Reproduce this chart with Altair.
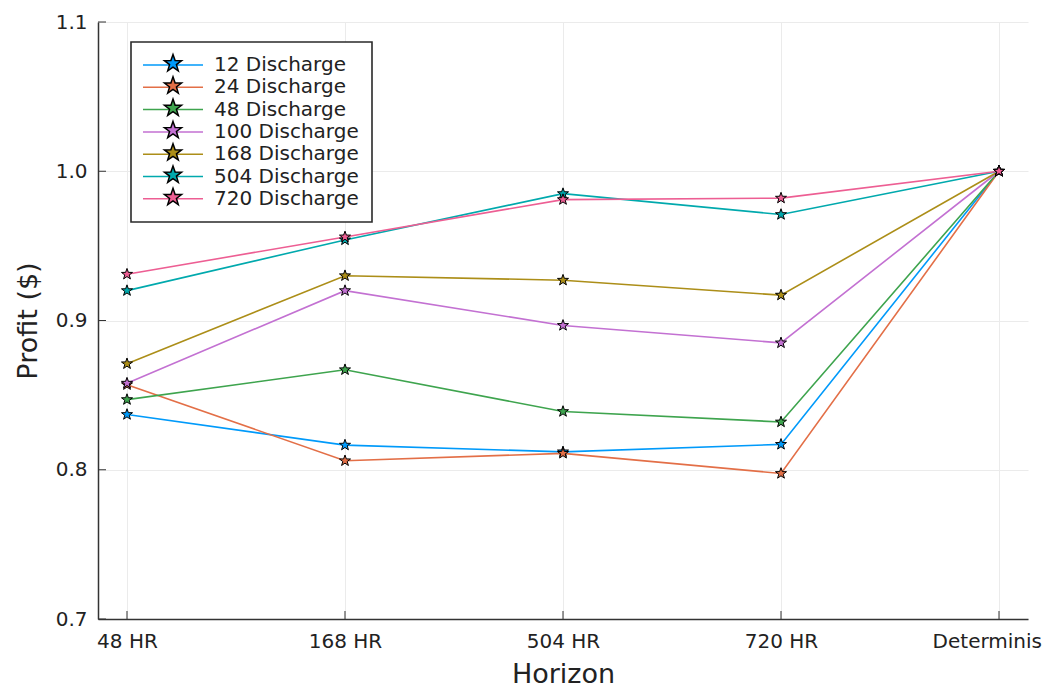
import altair as alt
import pandas as pd

horizons = ["48 HR", "168 HR", "504 HR", "720 HR", "Deterministic"]
series = ["12 Discharge", "24 Discharge", "48 Discharge", "100 Discharge",
          "168 Discharge", "504 Discharge", "720 Discharge"]
v12 = [0.837, 0.8165, 0.812, 0.817, 1.0]
v24 = [0.857, 0.806, 0.811, 0.7975, 1.0]
v48 = [0.847, 0.867, 0.839, 0.832, 1.0]
v100 = [0.858, 0.920, 0.8967, 0.885, 1.0]
v168 = [0.871, 0.930, 0.927, 0.917, 1.0]
v504 = [0.920, 0.954, 0.985, 0.971, 1.0]
v720 = [0.931, 0.956, 0.981, 0.982, 1.0]
colors = ["#009AFA", "#E36F47", "#3EA44E", "#C371D2", "#AC8E18", "#00A9AD", "#ED5E93"]
y_ticks = [0.7, 0.8, 0.9, 1.0, 1.1]

values = [v12, v24, v48, v100, v168, v504, v720]
rows = []
for s, vals in zip(series, values):
    for h, v in zip(horizons, vals):
        rows.append({"horizon": h, "profit": v, "series": s, "series_pt": s})
df = pd.DataFrame(rows)
df_yt = pd.DataFrame({"profit": y_ticks})
df_xt = pd.DataFrame({"horizon": horizons})

FONT = "DejaVu Sans"
STAR = ("M0,-1L0.2351,-0.3236L0.9511,-0.309L0.3804,0.1236L0.5878,0.809L0,0.4"
        "L-0.5878,0.809L-0.3804,0.1236L-0.9511,-0.309L-0.2351,-0.3236Z")
LINE = "M-3.333,0L3.333,0"

xscale = alt.Scale(type="point", padding=0.133, domain=horizons)
yscale = alt.Scale(domain=[0.7, 1.1], nice=False, zero=False)

x_axis = alt.Axis(title="Horizon", labelAngle=0, grid=True, gridColor="#ebebeb", gridWidth=1,
                  ticks=False, tickSize=0, labelPadding=12, labelFontSize=20, labelFont=FONT,
                  labelColor="#222222", titleFontSize=27, titleFont=FONT, titleFontWeight="normal",
                  titleColor="#222222", titlePadding=10, domainColor="#333333", domainWidth=1.5,
                  labelOverlap=False)
y_axis = alt.Axis(title="Profit ($)", values=y_ticks, format=".1f", grid=True, gridColor="#ebebeb",
                  gridWidth=1, ticks=False, tickSize=0, labelPadding=11, labelFontSize=20,
                  labelFont=FONT, labelColor="#222222", titleFontSize=27, titleFont=FONT,
                  titleFontWeight="normal", titleColor="#222222", titlePadding=13,
                  domainColor="#333333", domainWidth=1.5)

common_legend = dict(orient="none", legendX=33, title=None, symbolSize=324,
                     symbolStrokeWidth=1.5, symbolOffset=19, labelOffset=31, labelFontSize=20,
                     labelFont=FONT, padding=13, labelLimit=400)

line_legend = alt.Legend(symbolType=LINE, labelColor="#222222", fillColor="white",
                         strokeColor="#2a2a2a", symbolFillColor="transparent",
                         legendY=20, rowPadding=2.3, **common_legend)
star_legend = alt.Legend(symbolType=STAR, labelExpr="''", labelOpacity=0,
                         symbolStrokeColor="black", symbolOpacity=1, legendY=18.5,
                         rowPadding=-0.7, **common_legend)

X = alt.X("horizon:N", scale=xscale, sort=horizons, axis=x_axis)
Y = alt.Y("profit:Q", scale=yscale, axis=y_axis)

lines = alt.Chart(df).mark_line(strokeWidth=1.6).encode(
    x=X, y=Y,
    color=alt.Color("series:N", scale=alt.Scale(domain=series, range=colors), sort=series,
                    legend=line_legend),
)

points = alt.Chart(df).mark_point(shape=STAR, filled=True, size=135, stroke="black",
                                  strokeWidth=1, opacity=1).encode(
    x=X, y=Y,
    fill=alt.Fill("series_pt:N", scale=alt.Scale(range=colors), sort=series,
                  legend=star_legend),
)

yticks = alt.Chart(df_yt).mark_rule(color="#333333", strokeWidth=1).encode(
    y=Y, x=alt.value(0), x2=alt.value(8),
)
xticks = alt.Chart(df_xt).mark_rule(color="#333333", strokeWidth=1).encode(
    x=X, y=alt.value(597), y2=alt.value(589),
)

chart = alt.layer(lines, points, yticks, xticks).properties(
    width=930, height=597,
    padding={"left": 90, "top": 14, "right": 14, "bottom": 66},
    autosize=alt.AutoSizeParams(type="none"),
    background="white",
).configure(font=FONT).configure_view(stroke=None).configure_legend(strokeWidth=1.6)

chart.save("out.html", embed_options={"renderer": "svg", "actions": False})
